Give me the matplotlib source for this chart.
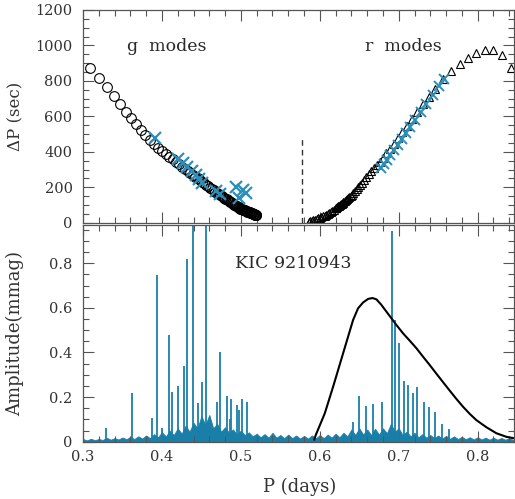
import matplotlib
matplotlib.use("Agg")
import matplotlib.pyplot as plt
from matplotlib.ticker import MultipleLocator

# ---------------- data ----------------
# g modes (model): period (days) and period spacing (sec)
g_P = [0.3090, 0.3203, 0.3300, 0.3389, 0.3468, 0.3544, 0.3611, 0.3675, 0.3734,
       0.3790, 0.3847, 0.3901, 0.3953, 0.4002, 0.4048, 0.4093, 0.4136, 0.4177,
       0.4217, 0.4255, 0.4292, 0.4327, 0.4361, 0.4393, 0.4425, 0.4455, 0.4484,
       0.4511, 0.4538, 0.4564, 0.4588, 0.4612, 0.4635, 0.4657, 0.4678, 0.4698,
       0.4718, 0.4737, 0.4755, 0.4772, 0.4789, 0.4805, 0.4821, 0.4836, 0.4851,
       0.4865, 0.4879, 0.4892, 0.4905, 0.4917, 0.4929, 0.4940, 0.4951, 0.4962,
       0.4972, 0.4982, 0.4992, 0.5001, 0.5010, 0.5019, 0.5028, 0.5036, 0.5044,
       0.5052, 0.5060, 0.5068, 0.5076, 0.5083, 0.5090, 0.5097, 0.5104, 0.5111,
       0.5118, 0.5124, 0.5130, 0.5136, 0.5142, 0.5148, 0.5154, 0.5160, 0.5166,
       0.5172, 0.5177, 0.5182, 0.5187, 0.5192, 0.5197]
g_dP = [875, 816, 765, 716, 669, 627, 590, 554, 524,
        495, 469, 445, 421, 402, 386, 371, 357, 343,
        330, 317, 304, 293, 281, 270, 260, 250, 240,
        231, 222, 213, 205, 197, 190, 183, 176, 169,
        163, 156, 151, 146, 141, 136, 131, 127, 122,
        118, 114, 110, 106, 102, 99, 95, 92, 89,
        86, 83, 80, 78, 77, 75, 73, 72, 70,
        69, 67, 66, 64, 63, 62, 60, 59, 58,
        56, 55, 54, 53, 52, 51, 50, 49, 48,
        47, 46, 45, 44, 44, 43]

# g modes (observed)
g_obs_P = [0.391, 0.420, 0.427, 0.432, 0.438, 0.443, 0.447, 0.451, 0.469,
           0.473, 0.494, 0.497, 0.503, 0.506]
g_obs_dP = [480, 362, 335, 315, 290, 268, 248, 225, 180,
            160, 200, 140, 185, 170]

# r modes (model)
r_P = [0.586, 0.588, 0.590, 0.592, 0.594, 0.596, 0.598, 0.600, 0.602, 0.604,
       0.606, 0.608, 0.610, 0.612, 0.614, 0.616, 0.618, 0.6200, 0.6210, 0.6220,
       0.6230, 0.6241, 0.6252, 0.6263, 0.6275, 0.6288, 0.6300, 0.6314, 0.6328,
       0.6342, 0.6357, 0.6373, 0.6390, 0.6407, 0.6426, 0.6445, 0.6466, 0.6488,
       0.6511, 0.6536, 0.6562, 0.6590, 0.6620, 0.6651, 0.6685, 0.6720, 0.6758,
       0.6798, 0.6840, 0.6886, 0.6934, 0.6986, 0.7041, 0.7100, 0.7163, 0.7231,
       0.7303, 0.7380, 0.7462, 0.7560, 0.7666, 0.7772, 0.7877, 0.7983, 0.8089,
       0.8194, 0.8308, 0.8418]
r_dP = [6, 9, 12, 15, 18, 22, 25, 28, 32, 36,
        40, 45, 50, 55, 61, 67, 74, 82, 85, 88,
        92, 95, 99, 103, 106, 111, 116, 121, 127,
        132, 138, 144, 151, 159, 169, 178, 188, 200,
        213, 226, 241, 256, 273, 290, 307, 325, 344,
        367, 391, 417, 445, 477, 509, 545, 583, 624,
        667, 711, 752, 810, 857, 897, 929, 957, 976,
        976, 948, 872]

# r modes (observed)
r_obs_P = [0.6780, 0.6816, 0.6854, 0.6895, 0.6939, 0.6986, 0.7037, 0.7091,
           0.7149, 0.7212, 0.7279, 0.7351, 0.7429, 0.7512, 0.7570]
r_obs_dP = [307, 330, 354, 380, 408, 438, 470, 505,
            542, 582, 625, 671, 720, 773, 810]

# amplitude spectrum: strong peaks
peak_P = [0.3291, 0.3616, 0.3880, 0.3940, 0.4000, 0.4085, 0.4127, 0.4203,
          0.4283, 0.4316, 0.4396, 0.4460, 0.4506, 0.4557, 0.4692, 0.4730,
          0.4819, 0.4860, 0.4873, 0.4945, 0.4970, 0.5017, 0.5072,
          0.6420, 0.6494, 0.6591, 0.6675, 0.6793, 0.6911, 0.6958, 0.7000,
          0.7063, 0.7118, 0.7181, 0.7235, 0.7316, 0.7384, 0.7456, 0.7553,
          0.7637]
peak_A = [0.060, 0.217, 0.105, 0.747, 0.060, 0.478, 0.221, 0.250,
          0.341, 0.818, 1.200, 0.175, 0.266, 1.200, 0.180, 0.400,
          0.206, 0.100, 0.190, 0.165, 0.140, 0.190, 0.180,
          0.090, 0.205, 0.161, 0.167, 0.177, 0.946, 0.546, 0.441,
          0.272, 0.254, 0.217, 0.247, 0.180, 0.154, 0.135, 0.080,
          0.056]

# amplitude spectrum: noise floor (step 0.005 d)
noise_P = [0.300, 0.305, 0.310, 0.315, 0.320, 0.325, 0.330, 0.335, 0.340, 0.345,
           0.350, 0.355, 0.360, 0.365, 0.370, 0.375, 0.380, 0.385, 0.390, 0.395,
           0.400, 0.405, 0.410, 0.415, 0.420, 0.425, 0.430, 0.435, 0.440, 0.445,
           0.450, 0.455, 0.460, 0.465, 0.470, 0.475, 0.480, 0.485, 0.490, 0.495,
           0.500, 0.505, 0.510, 0.515, 0.520, 0.525, 0.530, 0.535, 0.540, 0.545,
           0.550, 0.555, 0.560, 0.565, 0.570, 0.575, 0.580, 0.585, 0.590, 0.595,
           0.600, 0.605, 0.610, 0.615, 0.620, 0.625, 0.630, 0.635, 0.640, 0.645,
           0.650, 0.655, 0.660, 0.665, 0.670, 0.675, 0.680, 0.685, 0.690, 0.695,
           0.700, 0.705, 0.710, 0.715, 0.720, 0.725, 0.730, 0.735, 0.740, 0.745,
           0.750, 0.755, 0.760, 0.765, 0.770, 0.775, 0.780, 0.785, 0.790, 0.795,
           0.800, 0.805, 0.810, 0.815, 0.820, 0.825, 0.830, 0.835, 0.840, 0.845,
           0.850]
noise_A = [0.012, 0.006, 0.013, 0.007, 0.012, 0.008, 0.018, 0.009, 0.016, 0.010,
           0.019, 0.011, 0.022, 0.012, 0.024, 0.014, 0.028, 0.016, 0.034, 0.020,
           0.042, 0.024, 0.050, 0.030, 0.060, 0.036, 0.072, 0.045, 0.085, 0.060,
           0.115, 0.075, 0.120, 0.060, 0.080, 0.045, 0.065, 0.040, 0.055, 0.032,
           0.050, 0.030, 0.042, 0.024, 0.036, 0.020, 0.034, 0.018, 0.040, 0.018,
           0.030, 0.016, 0.032, 0.016, 0.028, 0.014, 0.026, 0.014, 0.028, 0.015,
           0.030, 0.016, 0.032, 0.018, 0.036, 0.020, 0.040, 0.024, 0.055, 0.030,
           0.060, 0.032, 0.055, 0.030, 0.058, 0.032, 0.060, 0.038, 0.080, 0.045,
           0.060, 0.030, 0.045, 0.024, 0.040, 0.020, 0.034, 0.018, 0.030, 0.016,
           0.028, 0.014, 0.026, 0.013, 0.024, 0.012, 0.022, 0.011, 0.020, 0.010,
           0.020, 0.010, 0.018, 0.009, 0.018, 0.009, 0.017, 0.009, 0.016, 0.008,
           0.016]

# model amplitude envelope (black curve)
model_P = [0.5930, 0.5949, 0.6063, 0.6169, 0.6295, 0.6422, 0.6485, 0.6548,
           0.6612, 0.6667, 0.6718, 0.6781, 0.6844, 0.6908, 0.6971, 0.7054,
           0.7139, 0.7224, 0.7308, 0.7392, 0.7477, 0.7561, 0.7646, 0.7730,
           0.7814, 0.7899, 0.7983, 0.8110, 0.8237, 0.8363, 0.8468]
model_A = [0.010, 0.030, 0.127, 0.247, 0.396, 0.546, 0.598, 0.624,
           0.640, 0.644, 0.638, 0.613, 0.583, 0.553, 0.523, 0.486,
           0.453, 0.419, 0.381, 0.344, 0.305, 0.267, 0.229, 0.192,
           0.157, 0.125, 0.097, 0.065, 0.038, 0.022, 0.015]

dashed_P = 0.577
dashed_top = 480

# ---------------- figure ----------------
plt.rcParams['font.family'] = ['DejaVu Serif']
plt.rcParams['mathtext.fontset'] = 'dejavuserif'
blue = '#1a7fa8'
xblue = '#2b8fba'
axc = '#555555'
txt = '#2a2a2a'

fig = plt.figure(figsize=(5.15, 4.99), dpi=100)
ax1 = fig.add_axes([0.1612, 0.5537, 0.8368, 0.4263])
ax2 = fig.add_axes([0.1612, 0.1148, 0.8368, 0.4337])

for ax in (ax1, ax2):
    ax.set_xlim(0.3, 0.846)
    ax.xaxis.set_major_locator(MultipleLocator(0.1))
    ax.xaxis.set_minor_locator(MultipleLocator(0.02))
    ax.tick_params(which='both', direction='in', top=True, right=True,
                   colors=axc, labelcolor='#333333', labelsize=10.5, width=0.8)
    ax.tick_params(which='major', length=8)
    ax.tick_params(which='minor', length=4)
    ax.tick_params(axis='y', which='major', pad=7.5)
    ax.tick_params(axis='x', which='major', pad=6)
    for s in ax.spines.values():
        s.set_color(axc)
        s.set_linewidth(0.9)

# top panel
ax1.set_ylim(0, 1200)
ax1.yaxis.set_major_locator(MultipleLocator(200))
ax1.yaxis.set_minor_locator(MultipleLocator(50))
ax1.tick_params(labelbottom=False)
ax1.plot(g_P, g_dP, linestyle='none', marker='o', ms=7, mfc='none',
         mec='black', mew=0.8)
ax1.plot(r_P, r_dP, linestyle='none', marker='^', ms=6, mfc='none',
         mec='black', mew=0.8)
ax1.plot(g_obs_P, g_obs_dP, linestyle='none', marker='x', ms=9, mec=xblue, mew=1.6)
ax1.plot(r_obs_P, r_obs_dP, linestyle='none', marker='x', ms=7, mec=xblue, mew=1.4)
ax1.vlines(dashed_P, 0, dashed_top, colors='#333333', linestyles=(0, (4, 3)), lw=1)
ax1.text(0.3557, 993, 'g  modes', fontsize=12.5, color=txt, ha='left', va='center')
ax1.text(0.657, 993, 'r  modes', fontsize=12.5, color=txt, ha='left', va='center')
ax1.set_ylabel('ΔP (sec)', fontsize=12, color='#333333')
ax1.yaxis.set_label_coords(-0.137, 0.5)

# bottom panel
ax2.set_ylim(0, 0.97)
ax2.yaxis.set_minor_locator(MultipleLocator(0.05))
ax2.set_yticks([0, 0.2, 0.4, 0.6, 0.8])
ax2.set_yticklabels(['0', '0.2', '0.4', '0.6', '0.8'])
ax2.fill_between(noise_P, 0, noise_A, color=blue, lw=0.6, edgecolor=blue)
ax2.vlines(peak_P, 0, peak_A, colors=blue, lw=1.3)
ax2.plot(model_P, model_A, color='black', lw=1.5)
ax2.text(0.4924, 0.80, 'KIC 9210943', fontsize=12.5, color=txt, ha='left', va='center')
ax2.set_ylabel('Amplitude(mmag)', fontsize=13, color='#333333')
ax2.yaxis.set_label_coords(-0.137, 0.5)
ax2.set_xlabel('P (days)', fontsize=13, color='#333333')
ax2.xaxis.set_label_coords(0.503, -0.168)

fig.savefig('out.png', dpi=100)
